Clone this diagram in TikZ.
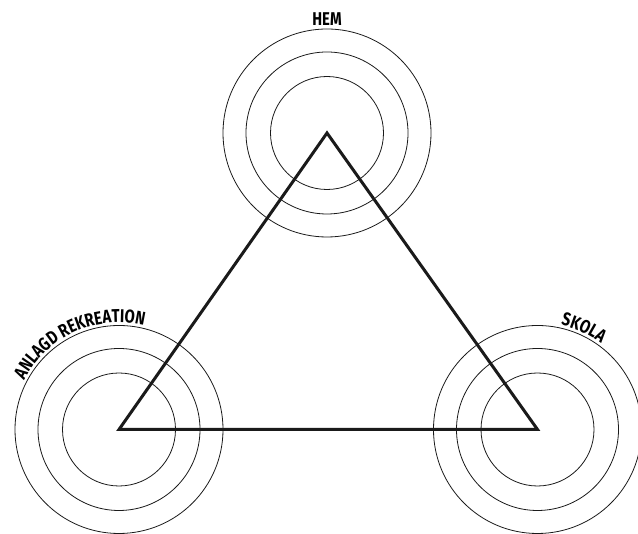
\documentclass[tikz,border=0pt]{standalone}
\usepackage{fontspec}
\usepackage{tikz}
\usetikzlibrary{positioning,decorations.text}
\newfontfamily\labelfont[FakeStretch=0.8]{Fira Sans}
\definecolor{ink}{HTML}{1A1A1A}

\begin{document}
\begin{tikzpicture}[x=1pt,y=1pt,
 ring/.style={draw=ink,circle,line width=0.8pt,inner sep=0pt,outer sep=0pt},
 side/.style={draw=ink,line width=3pt,line join=miter},
 lbl/.style={font=\labelfont\bfseries\fontsize{18.5}{18.5}\selectfont,inner sep=0pt}]
\useasboundingbox (0,0) rectangle (638,534);
% three sets of rings
\foreach \name/\x/\y in {hem/327/401,rek/119/104.5,skola/537.5/104.5}{
  \node[ring,minimum size=208] (\name) at (\x,\y) {};
  \node[ring,minimum size=162] (\name mid) at (\x,\y) {};
  \node[ring,minimum size=113] (\name in) at (\x,\y) {};
}
\draw[side] (hem.center) -- (skola.center) -- (rek.center) -- cycle;
\node[lbl,above=3pt of hem] (hemlbl) {HEM};
\path[decorate,decoration={text along path,text align=center,
  text={|\labelfont\bfseries\fontsize{18.5}{18.5}\selectfont|ANLAGD REKREATION}}]
  (rek.center) ++(168:107) arc[start angle=168,end angle=61,radius=107];
\path[decorate,decoration={text along path,text align=center,
  text={|\labelfont\bfseries\fontsize{18.5}{18.5}\selectfont|SKOLA}}]
  (skola.center) ++(88:107) arc[start angle=88,end angle=43,radius=107];
\end{tikzpicture}
\end{document}
